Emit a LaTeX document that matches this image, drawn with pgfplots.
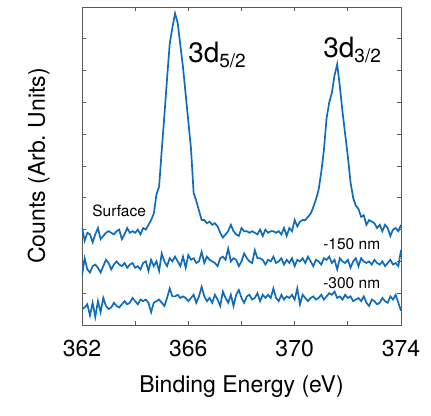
\documentclass[border=0pt]{standalone}
\usepackage{pgfplots}
\pgfplotsset{compat=1.18}
\usepackage{fontspec}
\setmainfont{TeX Gyre Heros}
\definecolor{lineblue}{RGB}{16,108,186}
\definecolor{axgray}{RGB}{90,90,90}
\begin{document}
\begin{tikzpicture}
\useasboundingbox (-82pt,-90pt) rectangle (349pt,325pt);
\begin{axis}[
  at={(0pt,0pt)}, anchor=south west,
  scale only axis, width=319pt, height=318pt,
  xmin=362, xmax=374, ymin=0, ymax=10,
  xtick={362,364,...,374},
  xticklabels={362,,366,,370,,374},
  ytick={1,2,...,9},
  yticklabels={},
  tick pos=both,
  tick align=inside,
  major tick length=4pt,
  axis line style={axgray, line width=0.8pt},
  every tick/.style={axgray, line width=0.8pt},
  /pgf/number format/assume math mode=true,
  xticklabel style={font=\fontsize{23}{23}\selectfont, anchor=base, inner sep=0pt, yshift=-31pt},
  xlabel={Binding Energy (eV)},
  ylabel={Counts (Arb.\ Units)},
  every axis x label/.style={at={(axis description cs:0.5,-0.2107)}, anchor=base, inner sep=0pt, font=\fontsize{23}{23}\selectfont},
  every axis y label/.style={at={(axis description cs:-0.1003,0.5)}, rotate=90, anchor=south, inner sep=0pt, font=\fontsize{23}{23}\selectfont},
  clip=true,
]
\addplot[lineblue, line width=1.7pt] coordinates {
(362.0,3.08)(362.1,2.65)(362.2,2.9)(362.3,2.85)(362.4,2.6)(362.5,2.85)(362.6,3.05)(362.7,2.7)(362.8,2.8)(362.9,2.9)
(363.0,2.95)(363.1,2.9)(363.2,2.85)(363.3,2.95)(363.4,3.0)(363.5,2.7)(363.6,2.85)(363.7,3.05)(363.8,2.9)(363.9,2.95)
(364.0,2.9)(364.1,3.0)(364.2,2.85)(364.3,3.05)(364.4,3.0)(364.5,3.15)(364.6,3.3)(364.7,3.5)(364.8,4.1)(364.9,4.35)
(365.0,5.5)(365.1,6.6)(365.2,7.75)(365.3,8.85)(365.4,9.35)(365.5,9.8)(365.6,9.5)(365.7,8.8)(365.8,8.1)(365.9,7.25)
(366.0,6.4)(366.1,5.55)(366.2,4.15)(366.3,3.9)(366.4,3.6)(366.5,3.3)(366.6,3.3)(366.7,3.2)(366.8,3.25)(366.9,3.15)
(367.0,3.2)(367.1,3.1)(367.2,2.9)(367.3,2.75)(367.4,2.85)(367.5,2.95)(367.6,3.15)(367.7,2.95)(367.8,2.85)(367.9,2.8)
(368.0,3.05)(368.1,2.95)(368.2,2.95)(368.3,2.9)(368.4,2.95)(368.5,2.9)(368.6,2.85)(368.7,3.0)(368.8,2.8)(368.9,3.0)
(369.0,2.9)(369.1,2.95)(369.2,2.95)(369.3,2.9)(369.4,2.95)(369.5,2.85)(369.6,3.05)(369.7,2.8)(369.8,3.05)(369.9,2.95)
(370.0,3.3)(370.1,3.1)(370.2,3.25)(370.3,3.3)(370.4,3.3)(370.5,3.4)(370.6,3.5)(370.7,3.7)(370.8,3.95)(370.9,4.25)
(371.0,4.8)(371.1,5.5)(371.2,6.5)(371.3,7.0)(371.4,7.3)(371.5,7.85)(371.6,8.2)(371.7,7.5)(371.8,6.7)(371.9,6.0)
(372.0,5.3)(372.1,4.5)(372.2,4.0)(372.3,3.75)(372.4,3.65)(372.5,3.4)(372.6,3.45)(372.7,3.15)(372.8,3.3)(372.9,3.25)
(373.0,3.2)(373.1,3.05)(373.2,3.15)(373.3,2.95)(373.4,3.15)(373.5,3.05)(373.6,2.8)(373.7,3.0)(373.8,3.05)(373.9,2.95)
(374.0,3.15)
};
\addplot[lineblue, line width=1.7pt] coordinates {
(362.0,1.55)(362.1,2.1)(362.2,1.75)(362.3,1.65)(362.4,1.85)(362.5,1.9)(362.6,1.8)(362.7,1.65)(362.8,1.85)(362.9,2.05)
(363.0,1.95)(363.1,1.75)(363.2,1.9)(363.3,2.0)(363.4,1.9)(363.5,1.85)(363.6,1.95)(363.7,1.8)(363.8,1.9)(363.9,1.95)
(364.0,1.8)(364.1,1.85)(364.2,1.75)(364.3,1.95)(364.4,2.0)(364.5,1.7)(364.6,2.05)(364.7,1.85)(364.8,2.0)(364.9,1.7)
(365.0,2.25)(365.1,2.0)(365.2,1.85)(365.3,2.1)(365.4,2.0)(365.5,2.15)(365.6,2.0)(365.7,1.85)(365.8,2.15)(365.9,1.8)
(366.0,2.2)(366.1,2.05)(366.2,2.1)(366.3,1.95)(366.4,2.0)(366.5,2.3)(366.6,1.95)(366.7,2.15)(366.8,2.05)(366.9,2.0)
(367.0,1.95)(367.1,1.85)(367.2,2.1)(367.3,2.15)(367.4,2.05)(367.5,2.4)(367.6,2.0)(367.7,2.1)(367.8,2.05)(367.9,1.85)
(368.0,2.0)(368.1,2.25)(368.2,2.1)(368.3,2.0)(368.4,1.95)(368.5,2.35)(368.6,2.1)(368.7,2.1)(368.8,2.05)(368.9,1.9)
(369.0,2.05)(369.1,2.0)(369.2,2.15)(369.3,1.95)(369.4,2.0)(369.5,2.1)(369.6,1.9)(369.7,2.05)(369.8,1.95)(369.9,2.1)
(370.0,1.85)(370.1,2.05)(370.2,2.0)(370.3,2.1)(370.4,1.95)(370.5,2.15)(370.6,2.0)(370.7,1.85)(370.8,2.05)(370.9,2.0)
(371.0,1.9)(371.1,2.1)(371.2,2.05)(371.3,2.15)(371.4,1.95)(371.5,2.05)(371.6,1.75)(371.7,2.1)(371.8,2.0)(371.9,1.95)
(372.0,2.05)(372.1,1.8)(372.2,2.0)(372.3,2.1)(372.4,1.85)(372.5,2.1)(372.6,2.0)(372.7,1.95)(372.8,2.0)(372.9,1.9)
(373.0,2.05)(373.1,1.95)(373.2,1.9)(373.3,2.0)(373.4,1.85)(373.5,1.95)(373.6,2.05)(373.7,1.9)(373.8,1.95)(373.9,1.85)
(374.0,2.35)
};
\addplot[lineblue, line width=1.7pt] coordinates {
(362.0,0.5)(362.1,0.55)(362.2,0.65)(362.3,0.3)(362.4,0.7)(362.5,0.25)(362.6,0.75)(362.7,0.4)(362.8,0.85)(362.9,0.6)
(363.0,0.5)(363.1,0.55)(363.2,0.7)(363.3,0.6)(363.4,0.55)(363.5,0.65)(363.6,0.75)(363.7,0.65)(363.8,0.7)(363.9,0.85)
(364.0,0.75)(364.1,0.65)(364.2,0.8)(364.3,0.75)(364.4,0.8)(364.5,0.7)(364.6,0.4)(364.7,0.7)(364.8,0.75)(364.9,0.8)
(365.0,0.7)(365.1,0.6)(365.2,0.85)(365.3,1.15)(365.4,0.9)(365.5,0.9)(365.6,0.95)(365.7,0.85)(365.8,0.9)(365.9,0.85)
(366.0,0.75)(366.1,0.85)(366.2,0.95)(366.3,0.7)(366.4,0.9)(366.5,1.2)(366.6,0.9)(366.7,0.75)(366.8,0.85)(366.9,0.7)
(367.0,0.95)(367.1,0.8)(367.2,0.6)(367.3,1.05)(367.4,0.85)(367.5,0.7)(367.6,0.95)(367.7,0.6)(367.8,0.95)(367.9,1.1)
(368.0,0.85)(368.1,0.7)(368.2,0.9)(368.3,0.95)(368.4,0.8)(368.5,0.85)(368.6,1.0)(368.7,0.75)(368.8,0.95)(368.9,0.85)
(369.0,0.95)(369.1,0.85)(369.2,1.15)(369.3,0.85)(369.4,0.75)(369.5,0.95)(369.6,0.8)(369.7,0.9)(369.8,0.85)(369.9,0.95)
(370.0,0.8)(370.1,1.15)(370.2,0.65)(370.3,0.95)(370.4,0.85)(370.5,0.75)(370.6,0.85)(370.7,0.9)(370.8,0.8)(370.9,0.85)
(371.0,0.95)(371.1,0.8)(371.2,0.9)(371.3,1.0)(371.4,0.95)(371.5,1.05)(371.6,0.85)(371.7,0.9)(371.8,0.8)(371.9,0.95)
(372.0,0.85)(372.1,0.9)(372.2,0.75)(372.3,0.8)(372.4,0.85)(372.5,0.75)(372.6,0.9)(372.7,0.7)(372.8,0.6)(372.9,0.8)
(373.0,0.75)(373.1,0.65)(373.2,0.7)(373.3,0.85)(373.4,0.75)(373.5,0.7)(373.6,0.9)(373.7,0.8)(373.8,0.95)(373.9,0.7)
(374.0,0.45)
};
\node[anchor=base west, inner sep=0pt, font=\fontsize{28}{28}\selectfont] at (axis cs:365.99,8.24) {3d\raisebox{-0.3ex}{\fontsize{19}{19}\selectfont 5/2}};
\node[anchor=base west, inner sep=0pt, font=\fontsize{28}{28}\selectfont] at (axis cs:371.07,8.40) {3d\raisebox{-0.3ex}{\fontsize{19}{19}\selectfont 3/2}};
\node[anchor=base west, inner sep=0pt, font=\fontsize{15.5}{15.5}\selectfont] at (axis cs:362.38,3.40) {Surface};
\node[anchor=base west, inner sep=0pt, font=\fontsize{15.5}{15.5}\selectfont] at (axis cs:371.07,2.36) {-150 nm};
\node[anchor=base west, inner sep=0pt, font=\fontsize{15.5}{15.5}\selectfont] at (axis cs:371.07,1.16) {-300 nm};
\end{axis}
\end{tikzpicture}
\end{document}
